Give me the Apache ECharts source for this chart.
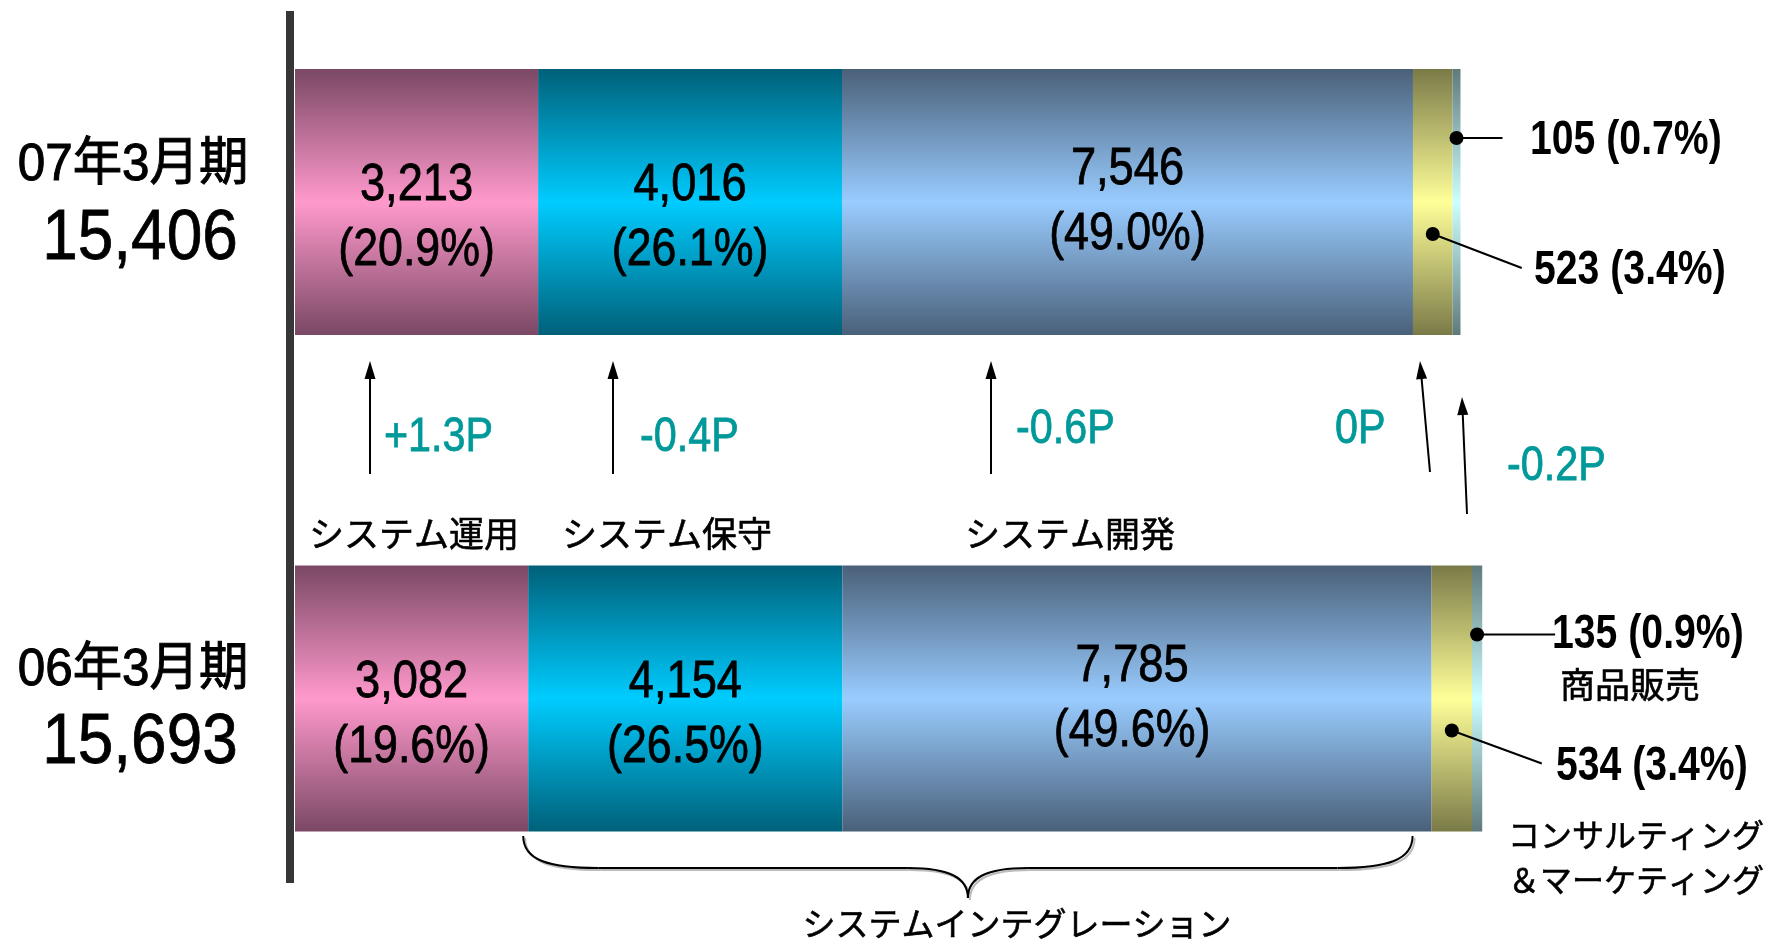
<!DOCTYPE html>
<html>
<head>
<meta charset="utf-8">
<script src="https://cdn.jsdelivr.net/npm/echarts@6/dist/echarts.min.js"></script>
<style>
  html, body { margin: 0; padding: 0; background: #fff; }
  #chart { width: 1770px; height: 941px; }
</style>
</head>
<body>
<div id="chart"></div>
<script>
const periods = ['07年3月期', '06年3月期'];
const totals = [15406, 15693];
const segments = ['システム運用', 'システム保守', 'システム開発', 'コンサルティング＆マーケティング', '商品販売'];
const values07 = [3213, 4016, 7546, 523, 105];
const values06 = [3082, 4154, 7785, 534, 135];
const shares07 = [20.9, 26.1, 49.0, 3.4, 0.7];
const shares06 = [19.6, 26.5, 49.6, 3.4, 0.9];
const shareChange = ['+1.3P', '-0.4P', '-0.6P', '0P', '-0.2P'];
const groupLabel = 'システムインテグレーション';

const LATIN = "'Liberation Sans', 'Noto Sans CJK JP', sans-serif";
const CJK = "'Noto Sans CJK JP', sans-serif";
const shadow = { textShadowColor: '#a8a8a8', textShadowOffsetX: 3, textShadowOffsetY: 3, textShadowBlur: 0 };

// edge / middle colours of the bar gradients
const barColors = [
  ['#7a4864', '#ff99cc'],
  ['#006079', '#00ccff'],
  ['#4a6079', '#99ccff'],
  ['#7a7a48', '#ffff99'],
  ['#607a7a', '#ccffff']
];

const fmt = v => v.toLocaleString('en-US');
const valsByPeriod = [values07, values06];
const sharesByPeriod = [shares07, shares06];

const chart = echarts.init(document.getElementById('chart'));

const series = segments.map((name, i) => ({
  type: 'bar',
  name: name,
  stack: 'total',
  barWidth: 266,
  silent: true,
  data: [values07[i], values06[i]],
  itemStyle: {
    color: new echarts.graphic.LinearGradient(0, 0, 0, 1, [
      { offset: 0, color: barColors[i][0] },
      { offset: 0.5, color: barColors[i][1] },
      { offset: 1, color: barColors[i][0] }
    ])
  },
  label: { show: false }
}));

chart.setOption({
  animation: false,
  grid: { left: 295, width: 1362, top: 202, height: 496.5 },
  xAxis: { type: 'value', min: 0, max: 18000, show: false },
  yAxis: {
    type: 'category',
    inverse: true,
    boundaryGap: false,
    data: periods,
    axisLine: { show: false },
    axisTick: { show: false },
    axisLabel: { show: false }
  },
  series: series
});

// annotations placed from the data scales
const px = (v, cat) => chart.convertToPixel({ xAxisIndex: 0, yAxisIndex: 0 }, [v, cat]);
const cum = (vals, k) => {
  let s = 0;
  for (let j = 0; j < k; j++) s += vals[j];
  return s;
};
const mid = (vals, k) => cum(vals, k) + vals[k] / 2;

const g = [];

// vertical axis bar
g.push({ type: 'rect', shape: { x: 286, y: 11, width: 8, height: 872 }, style: { fill: '#363636' } });

function addText(text, x, y, o) {
  const fill = o.fill || '#000';
  g.push({
    type: 'text', x: x, y: y, scaleX: o.scaleX || 1, z: 10,
    style: Object.assign({
      text: text, font: o.font, fill: fill, align: o.align || 'left',
      verticalAlign: 'middle', lineHeight: o.lineHeight,
      stroke: o.heavy ? fill : null, lineWidth: o.heavy || 0
    }, shadow)
  });
}
function addLine(x1, y1, x2, y2) {
  g.push({ type: 'line', z: 10, shape: { x1: x1, y1: y1, x2: x2, y2: y2 }, style: { stroke: '#000', lineWidth: 2 } });
}
function addDot(x, y, x2, y2) {
  addLine(x, y, x2, y2);
  g.push({ type: 'circle', z: 11, shape: { cx: x, cy: y, r: 7 }, style: { fill: '#000' } });
}

const boldFont = 'bold 49px ' + LATIN;
[0, 1].forEach(c => {
  const vals = valsByPeriod[c];
  const shares = sharesByPeriod[c];
  const cy = px(0, c)[1];

  // period name and total
  addText(periods[c], 133, cy + (c === 0 ? -36 : -28), { font: '52px ' + LATIN, align: 'center', scaleX: 0.95, heavy: 1 });
  addText(fmt(totals[c]), 140, cy + (c === 0 ? 37 : 45), { font: '71px ' + LATIN, align: 'center', scaleX: 0.9, heavy: 0.8 });

  // values inside the three big segments
  for (let i = 0; i < 3; i++) {
    const x = px(mid(vals, i), c)[0] - (i === 2 ? 5 * c : 0);
    const d = i < 2 ? [-16, 49] : [-32, 33];
    addText(fmt(vals[i]), x, cy + d[0], { font: '52px ' + LATIN, align: 'center', scaleX: 0.87, heavy: 0.8 });
    addText('(' + shares[i].toFixed(1) + '%)', x, cy + d[1], { font: '52px ' + LATIN, align: 'center', scaleX: 0.86, heavy: 0.8 });
  }

  // small segments with leader lines
  const pSales = px(mid(vals, 4), c);
  const pCons = px(mid(vals, 3), c);
  const ys = cy - 64;
  const yc = cy + 32;
  const lab = k => fmt(vals[k]) + ' (' + shares[k].toFixed(1) + '%)';
  if (c === 0) {
    addDot(pSales[0], ys, pSales[0] + 46, ys);
    addText(lab(4), 1530, ys + 2, { font: boldFont, scaleX: 0.8 });
    addDot(pCons[0], yc, pCons[0] + 89, yc + 34);
    addText(lab(3), 1534, yc + 36, { font: boldFont, scaleX: 0.8 });
  } else {
    addDot(pSales[0], ys, pSales[0] + 78, ys);
    addText(lab(4), 1552, ys, { font: boldFont, scaleX: 0.8 });
    addText(segments[4], 1560, ys + 50, { font: '35px ' + CJK, heavy: 0.6 });
    addDot(pCons[0], yc, pCons[0] + 90, yc + 33);
    addText(lab(3), 1556, yc + 36, { font: boldFont, scaleX: 0.8 });
    const parts = segments[3].split('＆');
    addText(parts[0], 1508, yc + 104, { font: '32px ' + CJK, heavy: 0.6 });
    addText('＆' + parts[1], 1508, yc + 149, { font: '32px ' + CJK, heavy: 0.6 });
  }
});

// share change arrows
const arrows = [
  [370, 474, 370, 361], [613, 474, 613, 361], [991, 474, 991, 361],
  [1430, 472, 1420, 361], [1467, 514, 1462, 397]
];
arrows.forEach(a => {
  const [x1, y1, x2, y2] = a;
  const len = Math.hypot(x2 - x1, y2 - y1);
  const ux = (x2 - x1) / len, uy = (y2 - y1) / len;
  const bx = x2 - ux * 18, by = y2 - uy * 18;
  addLine(x1, y1, bx, by);
  g.push({
    type: 'polygon', z: 10,
    shape: { points: [[x2, y2], [bx - uy * 5.5, by + ux * 5.5], [bx + uy * 5.5, by - ux * 5.5]] },
    style: { fill: '#000' }
  });
});
const changePos = [[384, 438], [640, 438], [1016, 430], [1335, 430], [1507, 467]];
shareChange.forEach((t, i) => addText(t, changePos[i][0], changePos[i][1], { font: '48px ' + LATIN, fill: '#009999', scaleX: 0.86, heavy: 0.8 }));

// segment names
const namePos = [[414, 534], [667, 534], [1070, 534]];
namePos.forEach((p, i) => addText(segments[i], p[0], p[1], { font: '35px ' + CJK, align: 'center', heavy: 0.6 }));

// brace under system integration
const braceL = px(values06[0], 1)[0] - 5;
const braceR = px(cum(values06, 3), 1)[0] - 19;
const bm = (braceL + braceR) / 2;
const bTop = 836, bY = 868, bTip = 898;
function brace(dx, dy, color) {
  const seg = (x1, y1, c1x, c1y, c2x, c2y, x2, y2) => g.push({
    type: 'bezierCurve', z: 9,
    shape: { x1: x1 + dx, y1: y1 + dy, cpx1: c1x + dx, cpy1: c1y + dy, cpx2: c2x + dx, cpy2: c2y + dy, x2: x2 + dx, y2: y2 + dy },
    style: { stroke: color, lineWidth: 2, fill: null }
  });
  const ln = (x1, y1, x2, y2) => g.push({
    type: 'line', z: 9,
    shape: { x1: x1 + dx, y1: y1 + dy, x2: x2 + dx, y2: y2 + dy },
    style: { stroke: color, lineWidth: 2 }
  });
  seg(braceL, bTop, braceL, bY - 8, braceL + 25, bY, braceL + 75, bY);
  ln(braceL + 75, bY, bm - 60, bY);
  seg(bm - 60, bY, bm - 18, bY, bm, bY + 10, bm, bTip);
  seg(bm, bTip, bm, bY + 10, bm + 18, bY, bm + 60, bY);
  ln(bm + 60, bY, braceR - 75, bY);
  seg(braceR - 75, bY, braceR - 25, bY, braceR, bY - 8, braceR, bTop);
}
brace(2, 2, '#bbbbbb');
brace(0, 0, '#000');
addText(groupLabel, bm + 49, 923, { font: '33px ' + CJK, align: 'center', heavy: 0.6 });

chart.setOption({ graphic: { elements: g } });
</script>
</body>
</html>
